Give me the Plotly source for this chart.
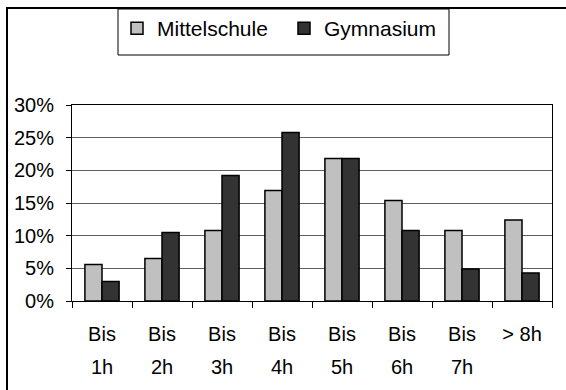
import plotly.graph_objects as go

categories = ["Bis 1h", "Bis 2h", "Bis 3h", "Bis 4h", "Bis 5h", "Bis 6h", "Bis 7h", "> 8h"]
label_line1 = ["Bis", "Bis", "Bis", "Bis", "Bis", "Bis", "Bis", "> 8h"]
label_line2 = ["1h", "2h", "3h", "4h", "5h", "6h", "7h", ""]
mittelschule = [5.6, 6.5, 10.8, 16.9, 21.8, 15.4, 10.8, 12.4]
gymnasium = [3.0, 10.5, 19.2, 25.8, 21.8, 10.8, 4.9, 4.3]
y_ticks = [0, 5, 10, 15, 20, 25, 30]
y_tick_labels = ["0%", "5%", "10%", "15%", "20%", "25%", "30%"]

FONT = "Liberation Sans, Arial, sans-serif"

fig = go.Figure()
fig.add_trace(go.Bar(x=categories, y=mittelschule, name="Mittelschule",
                     marker=dict(color="#C0C0C0", line=dict(color="black", width=1.5))))
fig.add_trace(go.Bar(x=categories, y=gymnasium, name="Gymnasium",
                     marker=dict(color="#333333", line=dict(color="black", width=1.5))))
# helper trace for the second line of the category labels
fig.add_trace(go.Scatter(x=[], y=[], xaxis="x2", showlegend=False, hoverinfo="skip"))

L, R, T, B = 72, 14, 105, 89
W, H = 566, 390
pw, ph = W - L - R, H - T - B

def px_x(x):
    return (x - L) / pw

def px_y(y):
    return (H - B - y) / ph

fig.update_layout(
    width=W, height=H,
    margin=dict(l=L, r=R, t=T, b=B, autoexpand=False),
    paper_bgcolor="white", plot_bgcolor="white",
    font=dict(family=FONT, size=20, color="black"),
    barmode="group", bargap=0.43, bargroupgap=0,
    showlegend=True,
    legend=dict(orientation="h", x=px_x(117), xanchor="left",
                y=px_y(8), yanchor="top",
                entrywidth=122, entrywidthmode="pixels",
                bgcolor="rgba(0,0,0,0)", borderwidth=0,
                font=dict(size=21, family=FONT)),
    xaxis=dict(type="category", categoryorder="array", categoryarray=categories,
               tickvals=categories, ticktext=label_line1,
               range=[-0.5, 7.5], automargin=False,
               tickson="boundaries", ticks="outside", ticklen=6, tickcolor="black",
               showline=True, linecolor="black", linewidth=1, mirror=True,
               showgrid=False, ticklabelstandoff=15,
               tickfont=dict(size=20, family=FONT)),
    xaxis2=dict(overlaying="x", anchor="y", side="bottom", range=[-0.5, 7.5],
                automargin=False,
                tickmode="array", tickvals=list(range(len(categories))), ticktext=label_line2,
                ticks="", showline=False, showgrid=False, zeroline=False,
                ticklabelstandoff=52, tickfont=dict(size=20, family=FONT)),
    yaxis=dict(range=[0, 30], tickmode="array", tickvals=y_ticks, ticktext=y_tick_labels,
               ticks="outside", ticklen=5, tickcolor="black", automargin=False,
               showline=True, linecolor="black", linewidth=1, mirror=True,
               showgrid=True, gridcolor="#606060", gridwidth=1,
               zeroline=False, ticklabelstandoff=8,
               tickfont=dict(size=20, family=FONT)),
    shapes=[
        # outer chart border (left & top visible)
        dict(type="rect", xref="paper", yref="paper",
             x0=px_x(7), x1=px_x(600), y0=px_y(420), y1=px_y(8),
             line=dict(color="black", width=2), fillcolor="rgba(0,0,0,0)", layer="above"),
        # legend box
        dict(type="rect", xref="paper", yref="paper",
             x0=px_x(118), x1=px_x(449), y0=px_y(55), y1=px_y(9),
             line=dict(color="black", width=1), fillcolor="rgba(0,0,0,0)", layer="above"),
    ],
)

fig.write_html("out.html", config={"displayModeBar": False},
               post_script="document.body.style.margin='0';")
